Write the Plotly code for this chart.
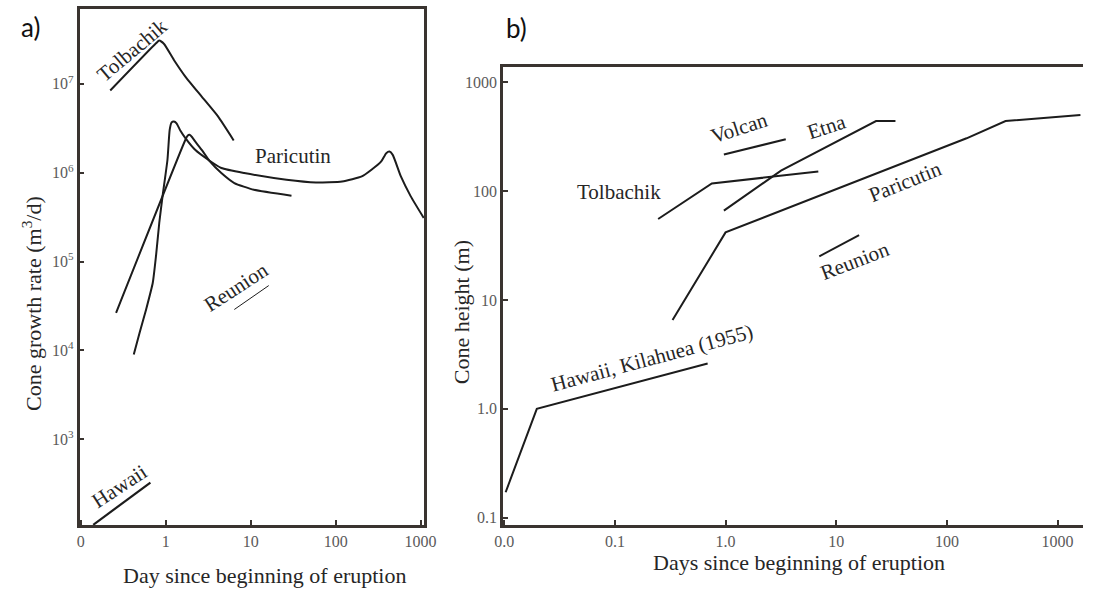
import plotly.graph_objects as go

# ---------------- Panel a: cone growth rate (m3/d) ----------------
tolbachik_a_days = [0.222, 0.767, 0.838, 0.955, 1.247, 1.70, 2.65, 4.12, 6.30]
tolbachik_a_rate = [8.41e6, 2.86e7, 3.07e7, 2.81e7, 1.86e7, 1.21e7, 7.19e6, 4.30e6, 2.31e6]

paricutin_a_days = [0.420, 0.492, 0.587, 0.703, 0.767, 0.838, 0.916, 1.047, 1.112, 1.172,
                    1.247, 1.340, 1.489, 1.702, 2.218, 3.155, 4.508, 8.375, 26.4, 58.6,
                    119, 203, 264, 344, 394, 430, 470, 586, 766, 1089]
paricutin_a_rate = [9.0e3, 1.58e4, 2.89e4, 5.77e4, 1.15e5, 2.72e5, 5.42e5, 1.40e6, 3.04e6, 3.69e6,
                    3.77e6, 3.60e6, 2.96e6, 2.45e6, 1.81e6, 1.40e6, 1.13e6, 9.93e5, 8.34e5, 7.78e5,
                    7.98e5, 9.08e5, 1.08e6, 1.34e6, 1.66e6, 1.73e6, 1.59e6, 9.08e5, 5.42e5, 3.10e5]

second_a_days = [0.260, 1.702, 1.807, 1.905, 2.046, 2.218, 2.649, 3.304, 4.508, 6.412, 10.91, 30.2]
second_a_rate = [2.65e4, 2.35e6, 2.61e6, 2.67e6, 2.51e6, 2.25e6, 1.81e6, 1.34e6, 9.93e5, 7.66e5, 6.44e5, 5.52e5]

reunion_a_days = [6.41, 16.3]
reunion_a_rate = [2.89e4, 5.37e4]

hawaii_a_days = [0.140, 0.659]
hawaii_a_rate = [109, 326]

a_xtick_vals = [0.1, 1, 10, 100, 1000]
a_xtick_text = ["0", "1", "10", "100", "1000"]
a_ytick_vals = [1e3, 1e4, 1e5, 1e6, 1e7]
a_ytick_text = ["10<sup>3</sup>", "10<sup>4</sup>", "10<sup>5</sup>", "10<sup>6</sup>", "10<sup>7</sup>"]

# ---------------- Panel b: cone height (m) ----------------
tolbachik_b_days = [0.246, 0.752, 6.89]
tolbachik_b_height = [55.5, 117.5, 151.7]

volcan_days = [0.966, 3.50]
volcan_height = [217, 300]

etna_days = [0.966, 3.17, 22.9, 34.3]
etna_height = [66.2, 154.5, 441, 441]

paricutin_b_days = [0.332, 1.0, 150.6, 339, 1610]
paricutin_b_height = [6.53, 41.8, 306, 441, 501]

reunion_b_days = [7.03, 16.1]
reunion_b_height = [25.2, 39.5]

hawaii_b_days = [0.0103, 0.0197, 0.689]
hawaii_b_height = [0.171, 1.0, 2.61]

b_xtick_vals = [0.01, 0.1, 1, 10, 100, 1000]
b_xtick_text = ["0.0", "0.1", "1.0", "10", "100", "1000"]
b_ytick_vals = [0.1, 1, 10, 100, 1000]
b_ytick_text = ["0.1", "1.0", "10", "100", "1000"]

W, H = 1096, 590
SERIF = "Liberation Serif, DejaVu Serif, serif"
INK = "#1c1c1c"
FRAME = "#3a3430"


def px(x):
    return x / W


def py(y):
    return 1 - y / H


fig = go.Figure()


def add_line(x, y, xa, ya, width=2.0, shape="linear"):
    fig.add_trace(go.Scatter(
        x=x, y=y, xaxis=xa, yaxis=ya, mode="lines",
        line=dict(color=INK, width=width, shape=shape, smoothing=0.5),
        hoverinfo="skip", showlegend=False))


add_line(tolbachik_a_days, tolbachik_a_rate, "x", "y", shape="spline")
add_line(paricutin_a_days, paricutin_a_rate, "x", "y", shape="spline")
add_line(second_a_days, second_a_rate, "x", "y", shape="spline")
add_line(reunion_a_days, reunion_a_rate, "x", "y", width=1.0)
add_line(hawaii_a_days, hawaii_a_rate, "x", "y", width=2.2)

add_line(tolbachik_b_days, tolbachik_b_height, "x2", "y2")
add_line(volcan_days, volcan_height, "x2", "y2")
add_line(etna_days, etna_height, "x2", "y2")
add_line(paricutin_b_days, paricutin_b_height, "x2", "y2")
add_line(reunion_b_days, reunion_b_height, "x2", "y2")
add_line(hawaii_b_days, hawaii_b_height, "x2", "y2")

axis_common = dict(
    type="log", showline=True, linecolor=FRAME, linewidth=2.5,
    ticks="inside", ticklen=5, tickwidth=2, tickcolor=FRAME,
    showgrid=False, zeroline=False,
    tickfont=dict(family=SERIF, size=16, color="#5a5a5a"),
)

fig.update_layout(
    width=W, height=H, autosize=False,
    margin=dict(l=0, r=0, t=0, b=0),
    paper_bgcolor="white", plot_bgcolor="white",
    xaxis=dict(axis_common, domain=[px(72), px(423.5)], range=[-1.015, 3.04],
               anchor="y", mirror=True, tickmode="array",
               tickvals=a_xtick_vals, ticktext=a_xtick_text),
    yaxis=dict(axis_common, domain=[py(526), py(9)], range=[2.034, 7.843],
               anchor="x", mirror=True, tickmode="array",
               tickvals=a_ytick_vals, ticktext=a_ytick_text),
    xaxis2=dict(axis_common, domain=[px(504), 1.0], range=[-2.012, 3.23],
                anchor="y2", mirror=True, tickmode="array",
                tickvals=b_xtick_vals, ticktext=b_xtick_text),
    yaxis2=dict(axis_common, domain=[py(526), py(67)], range=[-1.069, 3.142],
                anchor="x2", mirror=False, tickmode="array",
                tickvals=b_ytick_vals, ticktext=b_ytick_text),
)


def note(text, x, y, size=21, angle=0, family=SERIF, color="#262626"):
    fig.add_annotation(text=text, x=px(x), y=py(y), xref="paper", yref="paper",
                       showarrow=False, textangle=angle, xanchor="center", yanchor="middle",
                       font=dict(family=family, size=size, color=color))


# panel letters
note("a)", 22, 27, size=26, family="Lato, Open Sans, sans-serif", color="#111111")
note("b)", 518, 28, size=26, family="Lato, Open Sans, sans-serif", color="#111111")

# axis titles
note("Day since beginning of eruption", 261, 576, size=22)
note("Cone growth rate (m<sup>3</sup>/d)", 24, 304, size=22, angle=-90)
note("Days since beginning of eruption", 806, 563, size=22)
note("Cone height (m)", 462, 313, size=22, angle=-90)

# curve names, panel a
note("Tolbachik", 126, 50, angle=-40)
note("Paricutin", 290, 156)
note("Reunion", 232, 287, angle=-33)
note("Hawaii", 113, 487, angle=-33)

# curve names, panel b
note("Volcan", 745, 128, angle=-18)
note("Etna", 834, 127, angle=-18)
note("Tolbachik", 623, 192)
note("Paricutin", 914, 182, angle=-22)
note("Reunion", 863, 261, angle=-21)
note("Hawaii, Kilahuea (1955)", 656, 359, angle=-15)

fig.write_html("out.html")
